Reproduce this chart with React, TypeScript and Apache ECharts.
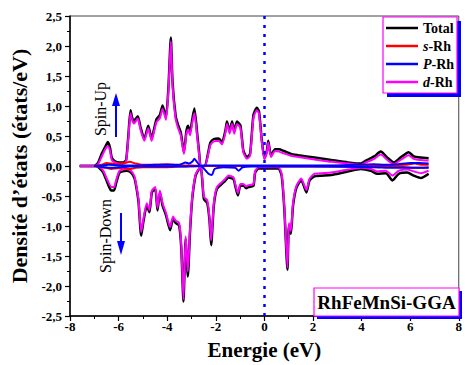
import React, { useEffect, useRef } from "react";
import * as echarts from "echarts";

// Densité d'états de RhFeMnSi (GGA) : [énergie (eV), DOS (états/eV)]
const totalUp: [number, number][] = [
  [-7.6, 0], [-7.0, 0], [-6.85, 0.05], [-6.7, 0.2], [-6.55, 0.32], [-6.44, 0.4], [-6.35, 0.3], [-6.28, 0.14],
  [-6.15, 0.08], [-5.96, 0.06], [-5.8, 0.06], [-5.69, 0.1], [-5.6, 0.5], [-5.51, 0.93], [-5.44, 0.8], [-5.37, 0.75],
  [-5.21, 0.83], [-5.1, 0.65], [-4.94, 0.45], [-4.78, 0.67], [-4.64, 0.45], [-4.55, 0.6], [-4.44, 0.78], [-4.3, 0.85],
  [-4.19, 1.01], [-4.05, 0.81], [-3.95, 1.3], [-3.85, 2.14], [-3.78, 1.4], [-3.65, 0.83], [-3.55, 0.68], [-3.44, 0.56],
  [-3.31, 0.23], [-3.21, 0.58], [-3.14, 0.67], [-3.06, 0.56], [-2.96, 0.8], [-2.88, 0.96], [-2.76, 0.52], [-2.68, 0.2],
  [-2.62, 0], [-2.45, 0], [-2.3, 0.25], [-2.22, 0.39], [-2.08, 0.45], [-1.88, 0.46], [-1.74, 0.4], [-1.6, 0.6],
  [-1.54, 0.74], [-1.43, 0.58], [-1.33, 0.74], [-1.24, 0.58], [-1.13, 0.74], [-0.99, 0.68], [-0.92, 0.45], [-0.86, 0.25],
  [-0.72, 0.15], [-0.59, 0.2], [-0.45, 0.85], [-0.31, 0.97], [-0.22, 0.91], [-0.11, 0.45], [0, 0.13], [0.1, 0.25],
  [0.16, 0.42], [0.27, 0.18], [0.44, 0.28], [0.6, 0.28], [0.8, 0.25], [1.1, 0.2], [1.4, 0.18], [2.07, 0.14],
  [2.75, 0.1], [3.43, 0.06], [3.97, 0.04], [4.18, 0.09], [4.52, 0.16], [4.79, 0.24], [5.06, 0.14], [5.33, 0.06],
  [5.6, 0.14], [5.94, 0.23], [6.15, 0.16], [6.42, 0.14], [6.76, 0.13],
];

const totalDown: [number, number][] = [
  [-7.6, 0], [-6.91, 0], [-6.75, -0.05], [-6.63, -0.11], [-6.44, -0.3], [-6.3, -0.41], [-6.19, -0.41], [-6.09, -0.27],
  [-5.96, -0.11], [-5.69, -0.08], [-5.49, -0.11], [-5.35, -0.2], [-5.28, -0.33], [-5.18, -0.6], [-5.07, -1.16],
  [-4.98, -0.93], [-4.84, -0.66], [-4.73, -0.77], [-4.63, -0.44], [-4.49, -0.38], [-4.4, -0.74], [-4.3, -0.44],
  [-4.19, -0.66], [-4.05, -0.82], [-3.88, -1.07], [-3.76, -0.88], [-3.65, -0.95], [-3.51, -0.99], [-3.42, -1.37],
  [-3.33, -2.26], [-3.24, -1.21], [-3.15, -1.84], [-3.06, -1.1], [-2.97, -0.55], [-2.83, -0.16], [-2.69, -0.05],
  [-2.62, 0], [-2.56, -0.22], [-2.49, -0.55], [-2.35, -0.62], [-2.26, -0.9], [-2.19, -1.32], [-2.08, -0.66],
  [-1.95, -0.38], [-1.67, -0.27], [-1.47, -0.19], [-1.27, -0.22], [-1.2, -0.33], [-1.09, -0.49], [-0.99, -0.33],
  [-0.86, -0.33], [-0.75, -0.37], [-0.65, -0.35], [-0.45, -0.33], [-0.38, -0.11], [-0.24, -0.04], [0, -0.04],
  [0.57, -0.04], [0.71, -0.16], [0.82, -0.71], [0.95, -1.73], [1.01, -0.99], [1.09, -1.13], [1.18, -0.66],
  [1.32, -0.36], [1.52, -0.24], [1.73, -0.44], [1.86, -0.24], [2.07, -0.17], [2.75, -0.15], [3.43, -0.09],
  [3.97, -0.05], [4.38, -0.08], [4.65, -0.13], [5.0, -0.12], [5.27, -0.24], [5.53, -0.13], [5.88, -0.11],
  [6.15, -0.16], [6.45, -0.2], [6.76, -0.13],
];

const dUp: [number, number][] = [
  [-7.6, 0], [-7.0, 0], [-6.85, 0.03], [-6.7, 0.15], [-6.55, 0.28], [-6.44, 0.33], [-6.35, 0.25], [-6.28, 0.1],
  [-6.15, 0.06], [-5.96, 0.04], [-5.8, 0.04], [-5.69, 0.08], [-5.6, 0.46], [-5.51, 0.88], [-5.44, 0.76], [-5.37, 0.71],
  [-5.21, 0.79], [-5.1, 0.61], [-4.94, 0.42], [-4.78, 0.63], [-4.64, 0.42], [-4.55, 0.56], [-4.44, 0.73], [-4.3, 0.8],
  [-4.19, 0.95], [-4.05, 0.77], [-3.95, 1.25], [-3.85, 2.08], [-3.78, 1.35], [-3.65, 0.78], [-3.55, 0.63], [-3.44, 0.51],
  [-3.31, 0.2], [-3.21, 0.53], [-3.14, 0.61], [-3.06, 0.51], [-2.96, 0.74], [-2.88, 0.88], [-2.76, 0.47], [-2.68, 0.17],
  [-2.62, 0], [-2.45, 0], [-2.3, 0.22], [-2.22, 0.35], [-2.08, 0.41], [-1.88, 0.42], [-1.74, 0.36], [-1.6, 0.56],
  [-1.54, 0.7], [-1.43, 0.54], [-1.33, 0.7], [-1.24, 0.54], [-1.13, 0.7], [-0.99, 0.64], [-0.92, 0.42], [-0.86, 0.22],
  [-0.72, 0.12], [-0.59, 0.17], [-0.45, 0.8], [-0.31, 0.93], [-0.22, 0.87], [-0.11, 0.42], [0, 0.11], [0.1, 0.22],
  [0.16, 0.39], [0.27, 0.15], [0.44, 0.25], [0.6, 0.24], [0.8, 0.21], [1.1, 0.17], [1.4, 0.15], [2.07, 0.11],
  [2.75, 0.07], [3.43, 0.04], [3.97, 0.02], [4.18, 0.06], [4.52, 0.12], [4.79, 0.19], [5.06, 0.1], [5.33, 0.03],
  [5.6, 0.1], [5.94, 0.18], [6.15, 0.12], [6.42, 0.1], [6.76, 0.09],
];

const dDown: [number, number][] = [
  [-7.6, 0], [-6.91, 0], [-6.75, -0.03], [-6.63, -0.08], [-6.44, -0.25], [-6.3, -0.35], [-6.19, -0.35], [-6.09, -0.22],
  [-5.96, -0.08], [-5.69, -0.05], [-5.49, -0.08], [-5.35, -0.17], [-5.28, -0.3], [-5.18, -0.56], [-5.07, -1.1],
  [-4.98, -0.89], [-4.84, -0.62], [-4.73, -0.73], [-4.63, -0.41], [-4.49, -0.35], [-4.4, -0.7], [-4.3, -0.41],
  [-4.19, -0.62], [-4.05, -0.78], [-3.88, -1.02], [-3.76, -0.84], [-3.65, -0.91], [-3.51, -0.95], [-3.42, -1.32],
  [-3.33, -2.22], [-3.24, -1.17], [-3.15, -1.76], [-3.06, -1.05], [-2.97, -0.52], [-2.83, -0.14], [-2.69, -0.04],
  [-2.62, 0], [-2.56, -0.2], [-2.49, -0.51], [-2.35, -0.57], [-2.26, -0.85], [-2.19, -1.24], [-2.08, -0.62],
  [-1.95, -0.35], [-1.67, -0.24], [-1.47, -0.16], [-1.27, -0.19], [-1.2, -0.3], [-1.09, -0.45], [-0.99, -0.3],
  [-0.86, -0.3], [-0.75, -0.34], [-0.65, -0.32], [-0.45, -0.3], [-0.38, -0.09], [-0.24, -0.02], [0, -0.02],
  [0.57, -0.02], [0.71, -0.13], [0.82, -0.67], [0.95, -1.69], [1.01, -0.95], [1.09, -1.08], [1.18, -0.62],
  [1.32, -0.33], [1.52, -0.21], [1.73, -0.4], [1.86, -0.21], [2.07, -0.13], [2.75, -0.11], [3.43, -0.06],
  [3.97, -0.03], [4.38, -0.05], [4.65, -0.09], [5.0, -0.08], [5.27, -0.16], [5.53, -0.08], [5.88, -0.06],
  [6.15, -0.09], [6.45, -0.12], [6.76, -0.08],
];

const sUp: [number, number][] = [
  [-7.0, 0], [-6.7, 0.02], [-6.5, 0.05], [-6.3, 0.04], [-6.1, 0.03], [-5.8, 0.04], [-5.55, 0.07], [-5.3, 0.04],
  [-5.0, 0.02], [-4.5, 0.02], [-4.0, 0.03], [-3.5, 0.01], [-3.0, 0.01], [-2.6, 0], [-2.0, 0], [0, 0], [2, 0],
  [4, 0.01], [5, 0.01], [5.8, 0.02], [6.2, 0.04], [6.5, 0.02], [6.76, 0.02],
];

const sDown: [number, number][] = [
  [-7.0, 0], [-6.7, -0.02], [-6.5, -0.03], [-6.3, -0.05], [-6.1, -0.04], [-5.8, -0.03], [-5.5, -0.05], [-5.3, -0.03],
  [-5.0, -0.02], [-4.5, -0.02], [-4.0, -0.02], [-3.5, -0.01], [-2.6, 0], [0, 0], [0.5, -0.01], [2, -0.01],
  [4, -0.01], [5.5, -0.01], [6.2, -0.03], [6.45, -0.03], [6.76, -0.02],
];

const pUp: [number, number][] = [
  [-7.0, 0], [-6.7, 0.01], [-6.4, 0.02], [-6.0, 0.01], [-5.5, 0.01], [-5.0, 0.01], [-4.5, 0.02], [-4.0, 0.02],
  [-3.5, 0.02], [-3.24, 0.06], [-3.1, 0.04], [-2.95, 0.08], [-2.88, 0.12], [-2.76, 0.06], [-2.62, 0], [-2.4, 0.01],
  [-1.5, 0.01], [-1.0, 0.01], [0, 0.01], [1, 0.01], [3, 0.01], [4.5, 0.03], [5, 0.02], [5.5, 0.03], [6, 0.05],
  [6.4, 0.05], [6.76, 0.04],
];

const pDown: [number, number][] = [
  [-7.0, 0], [-6.6, -0.02], [-6.3, -0.03], [-6.0, -0.02], [-5.5, -0.01], [-4.5, -0.01], [-3.5, -0.01], [-2.62, 0],
  [-2.5, -0.04], [-2.3, -0.13], [-2.16, -0.15], [-2.05, -0.05], [-1.7, -0.02], [-1.2, -0.03], [-1.06, -0.08],
  [-0.9, -0.02], [-0.5, -0.01], [0, -0.01], [2, -0.01], [4.5, -0.02], [5.3, -0.03], [6, -0.03], [6.76, -0.03],
];

const legendNames = ["Total", "s-Rh", "P-Rh", "d-Rh"];
const compoundLabel = "RhFeMnSi-GGA";
const FONT = '"Liberation Serif", "Times New Roman", serif';
const BLUE = "#0000ff";
const MAGENTA = "#ff00ff";

function curve(name: string, data: [number, number][], color: string, width: number, z: number) {
  return {
    type: "line",
    name,
    data,
    symbol: "none",
    smooth: 0.2,
    z,
    lineStyle: { color, width },
    itemStyle: { color },
  };
}

export default function App() {
  const ref = useRef<HTMLDivElement>(null);

  useEffect(() => {
    const chart = echarts.init(ref.current!, null, { renderer: "svg" });
    const rich = {
      it: { fontFamily: FONT, fontWeight: "bold", fontStyle: "italic", fontSize: 14, color: "#000" },
      rg: { fontFamily: FONT, fontWeight: "bold", fontSize: 14, color: "#000" },
    };
    const fermi = curve("P-Rh", pDown, BLUE, 2, 5) as any;
    fermi.markLine = {
      silent: true,
      symbol: ["none", "none"],
      label: { show: false },
      lineStyle: { color: BLUE, type: [3, 6], width: 2.5 },
      data: [{ xAxis: 0 }],
    };

    chart.setOption({
      animation: false,
      backgroundColor: "#ffffff",
      grid: { left: 70, right: 3, top: 16, bottom: 47, show: true, borderColor: "#444", borderWidth: 1 },
      xAxis: {
        type: "value",
        min: -8,
        max: 8,
        interval: 2,
        name: "Energie (eV)",
        nameLocation: "middle",
        nameGap: 23,
        nameTextStyle: { fontFamily: FONT, fontWeight: "bold", fontSize: 21, color: "#000" },
        axisLine: { onZero: false, lineStyle: { color: "#000", width: 1.5 } },
        axisTick: { inside: false, length: 5, lineStyle: { color: "#000", width: 1.2 } },
        minorTick: { show: true, splitNumber: 2, length: 3, lineStyle: { color: "#000", width: 1 } },
        splitLine: { show: false },
        axisLabel: {
          margin: 4,
          fontFamily: FONT,
          fontWeight: "bold",
          fontSize: 13,
          color: "#000",
          formatter: (v: number) => String(v),
        },
      },
      yAxis: {
        type: "value",
        min: -2.5,
        max: 2.5,
        interval: 0.5,
        name: "Densité d\u2019états (états/eV)",
        nameLocation: "middle",
        nameGap: 40,
        nameTextStyle: { fontFamily: FONT, fontWeight: "bold", fontSize: 22, color: "#000" },
        axisLine: { onZero: false, lineStyle: { color: "#000", width: 1.5 } },
        axisTick: { inside: false, length: 5, lineStyle: { color: "#000", width: 1.2 } },
        minorTick: { show: true, splitNumber: 2, length: 3, lineStyle: { color: "#000", width: 1 } },
        splitLine: { show: false },
        axisLabel: {
          margin: 8,
          fontFamily: FONT,
          fontWeight: "bold",
          fontSize: 13,
          color: "#000",
          formatter: (v: number) => v.toFixed(1).replace(".", ","),
        },
      },
      legend: {
        data: legendNames.map((name) => ({ name, icon: "rect" })),
        orient: "vertical",
        left: 386,
        top: 21,
        padding: 0,
        itemWidth: 32,
        itemHeight: 2.5,
        itemGap: 4,
        z: 20,
        textStyle: { fontFamily: FONT, fontWeight: "bold", fontSize: 14, lineHeight: 14, color: "#000", rich },
        formatter: (name: string) => {
          const parts = name.split("-");
          return parts.length === 2 ? `{it|${parts[0]}}{rg|-${parts[1]}}` : `{rg|${name}}`;
        },
      },
      graphic: [
        // legend frame with its offset shadow
        { type: "rect", z: 10, shape: { x: 387, y: 21, width: 74, height: 76 }, style: { fill: BLUE } },
        { type: "rect", z: 11, shape: { x: 383, y: 17, width: 74, height: 76 }, style: { fill: "#fff", stroke: MAGENTA, lineWidth: 1.2 } },
        // compound label box
        { type: "rect", z: 10, shape: { x: 317, y: 291, width: 145, height: 28 }, style: { fill: BLUE } },
        { type: "rect", z: 11, shape: { x: 314, y: 288, width: 145, height: 28 }, style: { fill: "#fff", stroke: MAGENTA, lineWidth: 1.2 } },
        {
          type: "text", z: 12, x: 386.5, y: 302,
          style: { text: compoundLabel, fontFamily: FONT, fontWeight: "bold", fontSize: 19, fill: "#000", textAlign: "center", textVerticalAlign: "middle" },
        },
        // spin channel annotations
        {
          type: "text", z: 12, x: 100, y: 109, rotation: Math.PI / 2,
          style: { text: "Spin-Up", fontFamily: FONT, fontSize: 16, fill: "#000", textAlign: "center", textVerticalAlign: "middle" },
        },
        { type: "line", z: 12, shape: { x1: 116, y1: 137, x2: 116, y2: 104 }, style: { stroke: BLUE, lineWidth: 2 } },
        { type: "polygon", z: 12, shape: { points: [[112, 106], [120, 106], [116, 93]] }, style: { fill: BLUE } },
        {
          type: "text", z: 12, x: 105, y: 236, rotation: Math.PI / 2,
          style: { text: "Spin-Down", fontFamily: FONT, fontSize: 16, fill: "#000", textAlign: "center", textVerticalAlign: "middle" },
        },
        { type: "line", z: 12, shape: { x1: 121, y1: 213, x2: 121, y2: 244 }, style: { stroke: BLUE, lineWidth: 2 } },
        { type: "polygon", z: 12, shape: { points: [[117, 241], [125, 241], [121, 255]] }, style: { fill: BLUE } },
      ],
      series: [
        curve("Total", totalUp, "#000", 2.5, 2),
        curve("Total", totalDown, "#000", 2.5, 2),
        curve("d-Rh", dUp, MAGENTA, 2, 3),
        curve("d-Rh", dDown, MAGENTA, 2, 3),
        curve("s-Rh", sUp, "#ff0000", 2, 4),
        curve("s-Rh", sDown, "#ff0000", 2, 4),
        curve("P-Rh", pUp, BLUE, 2, 5),
        fermi,
      ],
    });
    return () => chart.dispose();
  }, []);

  return <div ref={ref} style={{ position: "fixed", left: 0, top: 0, width: 465, height: 365 }} />;
}
